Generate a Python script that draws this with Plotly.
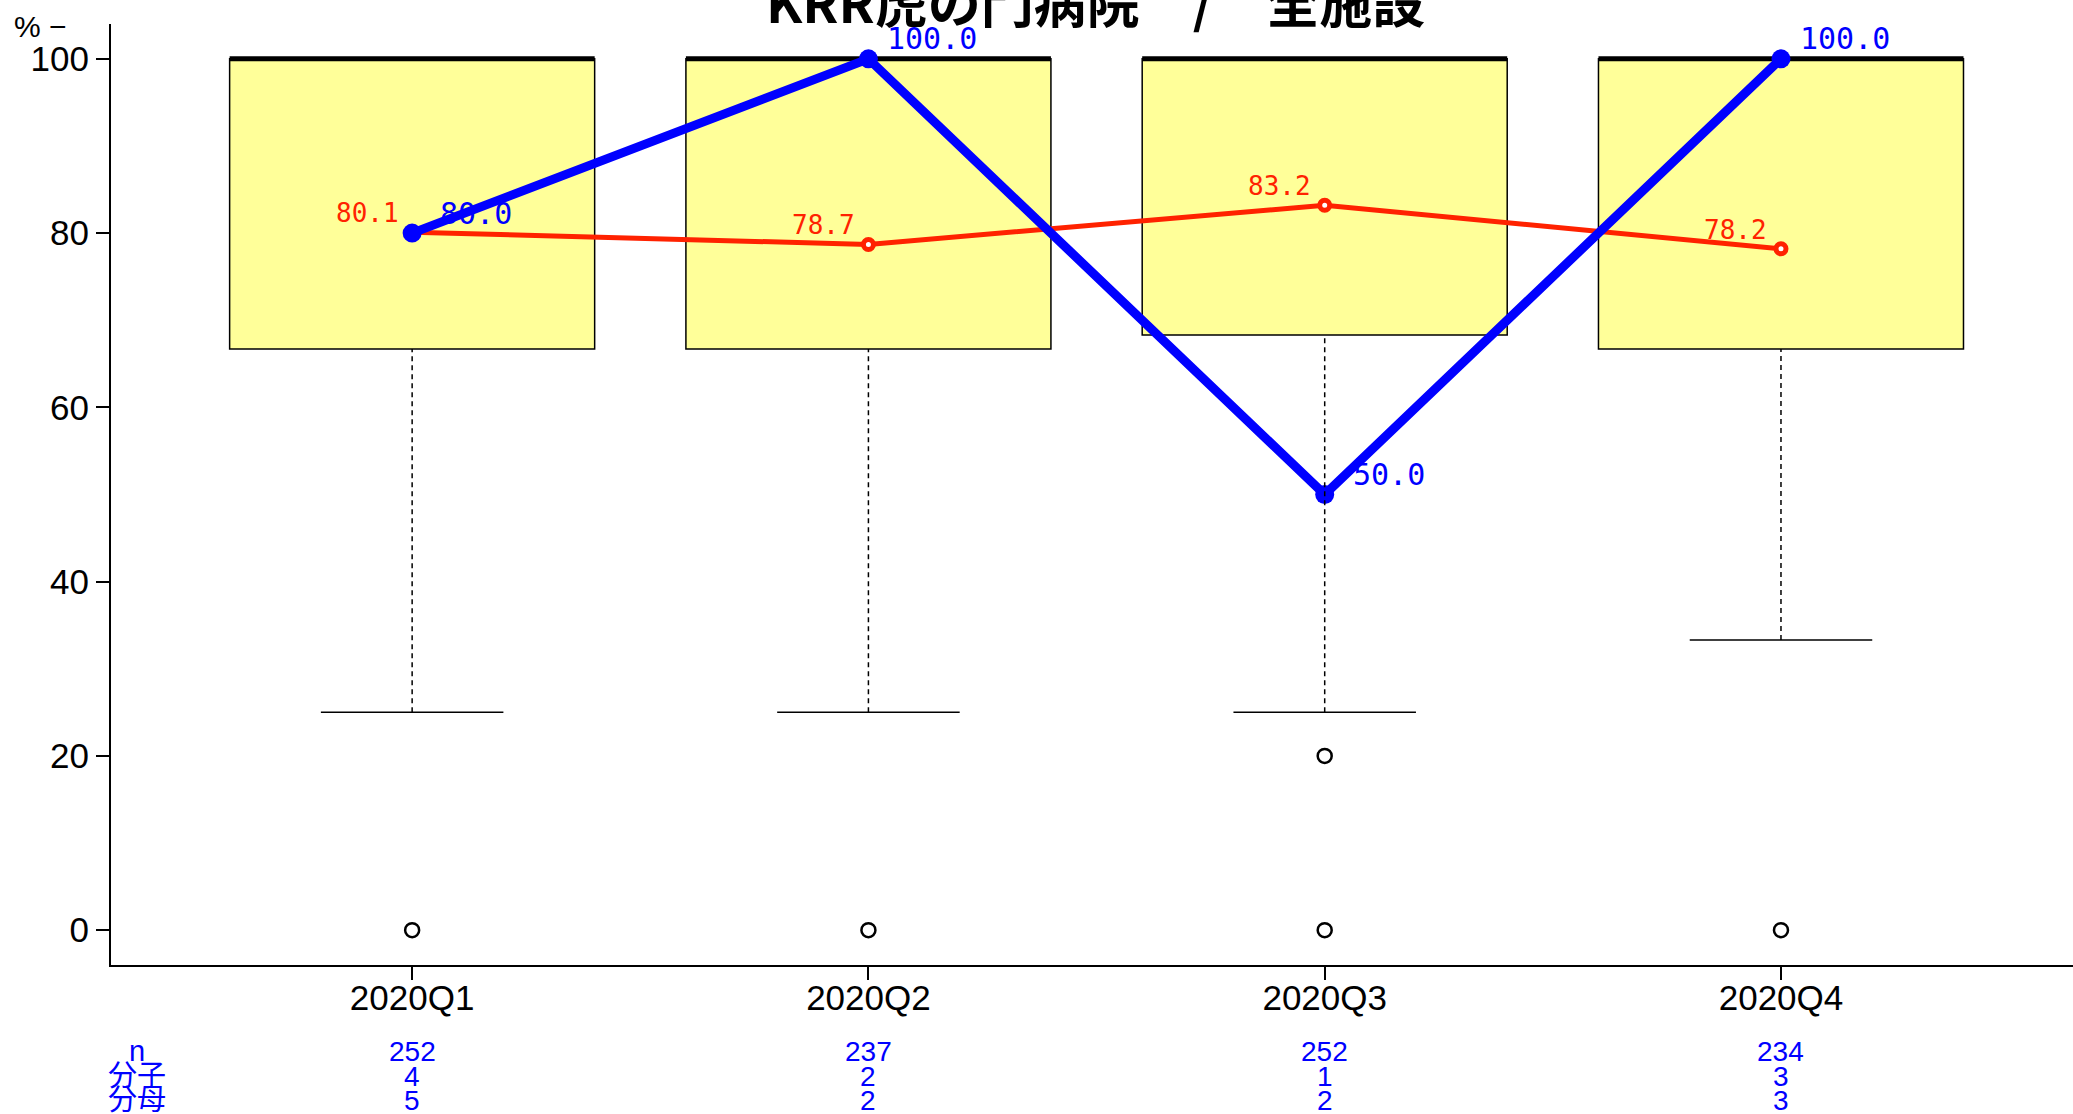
import plotly.graph_objects as go

# ---------------- data ----------------
categories = ["2020Q1", "2020Q2", "2020Q3", "2020Q4"]
x_pos = [1, 2, 3, 4]

# box statistics (all facilities)
whisker_low = [25.0, 25.0, 25.0, 33.3]
box_q1 = [66.7, 66.7, 68.3, 66.7]
box_median = [100.0, 100.0, 100.0, 100.0]
box_q3 = [100.0, 100.0, 100.0, 100.0]
whisker_high = [100.0, 100.0, 100.0, 100.0]

outlier_x = [1, 2, 3, 3, 4]
outlier_y = [0.0, 0.0, 20.0, 0.0, 0.0]

# overall mean (red) and this hospital (blue)
mean_values = [80.1, 78.7, 83.2, 78.2]
hospital_values = [80.0, 100.0, 50.0, 100.0]

n_values = [252, 237, 252, 234]
numerators = [4, 2, 1, 3]
denominators = [5, 2, 2, 3]

title_text = "KRR虎の門病院\u3000/\u3000全施設"
y_ticks = [0, 20, 40, 60, 80, 100]

# ---------------- figure ----------------
W, H = 2073, 1114
ML, MR, MT, MB = 111, 0, 24, 149
x_range = [0.34, 4.64]
y_range = [-4, 104]

SANS = "Liberation Sans, Arial, sans-serif"
MONO = "DejaVu Sans Mono, monospace"
CJK = "Liberation Sans, Noto Sans CJK JP, sans-serif"

fig = go.Figure()
shapes = []
BOX_HALF = 0.4
CAP_HALF = 0.2
for xi, lo, q1, med, q3, hi in zip(x_pos, whisker_low, box_q1, box_median, box_q3, whisker_high):
    # lower whisker (dashed)
    shapes.append(dict(type="line", xref="x", yref="y", x0=xi, x1=xi, y0=lo, y1=q1,
                       line=dict(color="black", width=1.5, dash="5px,4px"), layer="above"))
    shapes.append(dict(type="line", xref="x", yref="y", x0=xi - CAP_HALF, x1=xi + CAP_HALF, y0=lo, y1=lo,
                       line=dict(color="black", width=1.5), layer="above"))
    # upper whisker
    if hi > q3:
        shapes.append(dict(type="line", xref="x", yref="y", x0=xi, x1=xi, y0=q3, y1=hi,
                           line=dict(color="black", width=1.5, dash="5px,4px"), layer="above"))
        shapes.append(dict(type="line", xref="x", yref="y", x0=xi - CAP_HALF, x1=xi + CAP_HALF, y0=hi, y1=hi,
                           line=dict(color="black", width=1.5), layer="above"))
    # box
    shapes.append(dict(type="rect", xref="x", yref="y", x0=xi - BOX_HALF, x1=xi + BOX_HALF, y0=q1, y1=q3,
                       fillcolor="#FFFF99", line=dict(color="black", width=1.5), layer="below"))
    # median
    shapes.append(dict(type="line", xref="x", yref="y", x0=xi - BOX_HALF, x1=xi + BOX_HALF, y0=med, y1=med,
                       line=dict(color="black", width=5), layer="below"))

# outliers
fig.add_trace(go.Scatter(x=outlier_x, y=outlier_y, mode="markers",
                         marker=dict(symbol="circle-open", size=14, color="black", line=dict(width=2.5)),
                         showlegend=False, hoverinfo="skip"))

# mean line (red)
fig.add_trace(go.Scatter(x=x_pos, y=mean_values, mode="lines+markers",
                         line=dict(color="#FF2200", width=5),
                         marker=dict(symbol="circle", size=10, color="white", line=dict(color="#FF2200", width=5)),
                         showlegend=False, hoverinfo="skip"))

# hospital line (blue)
fig.add_trace(go.Scatter(x=x_pos, y=hospital_values, mode="lines+markers",
                         line=dict(color="#0000FF", width=9),
                         marker=dict(symbol="circle", size=19, color="#0000FF"),
                         showlegend=False, hoverinfo="skip"))

annotations = []
for xi, v in zip(x_pos, mean_values):
    annotations.append(dict(x=xi, y=v, xref="x", yref="y", text=f"{v:.1f}", showarrow=False,
                            xanchor="center", yanchor="middle", xshift=-45, yshift=19,
                            font=dict(family=MONO, size=26, color="#FF2200")))
for xi, v in zip(x_pos, hospital_values):
    annotations.append(dict(x=xi, y=v, xref="x", yref="y", text=f"{v:.1f}", showarrow=False,
                            xanchor="center", yanchor="middle", xshift=64, yshift=20,
                            font=dict(family=MONO, size=30, color="#0000FF")))

# bottom count rows
plot_h = H - MT - MB
def py(px):
    """paper y for a pixel row measured from top"""
    return 1 - (px - MT) / plot_h

row_px = [1051, 1076, 1100]
row_labels = ["n", "分子", "分母"]
row_values = [n_values, numerators, denominators]
plot_w = W - ML - MR
label_x_paper = (137 - ML) / plot_w
for rp, lab, vals in zip(row_px, row_labels, row_values):
    annotations.append(dict(x=label_x_paper, y=py(rp), xref="paper", yref="paper", text=lab,
                            showarrow=False, xanchor="center", yanchor="middle",
                            font=dict(family=CJK, size=29, color="#0000FF")))
    for xi, v in zip(x_pos, vals):
        annotations.append(dict(x=xi, y=py(rp), xref="x", yref="paper", text=str(v),
                                showarrow=False, xanchor="center", yanchor="middle",
                                font=dict(family=SANS, size=28, color="#0000FF")))

# title (clipped at the top like the reference)
title_x_paper = (1095 - ML) / plot_w
annotations.append(dict(x=title_x_paper, y=py(0), xref="paper", yref="paper", text="<b>" + title_text + "</b>",
                        showarrow=False, xanchor="center", yanchor="middle",
                        font=dict(family="Noto Sans CJK JP, sans-serif", size=53, color="black")))
# y label
annotations.append(dict(x=-(ML - 12) / plot_w, y=py(27), xref="paper", yref="paper", text="% \u2212",
                        showarrow=False, xanchor="left", yanchor="middle",
                        font=dict(family=SANS, size=30, color="black")))

fig.update_layout(
    width=W, height=H,
    margin=dict(l=ML, r=MR, t=MT, b=MB, pad=0),
    paper_bgcolor="white", plot_bgcolor="white",
    shapes=shapes, annotations=annotations,
    xaxis=dict(range=x_range, tickvals=x_pos, ticktext=categories, showgrid=False, zeroline=False,
               showline=True, linecolor="black", linewidth=2, ticks="outside", ticklen=13,
               tickwidth=1.5, tickcolor="black", tickfont=dict(family=SANS, size=35, color="black"),
               ticklabelstandoff=-12, fixedrange=True),
    yaxis=dict(range=y_range, tickvals=y_ticks, showgrid=False, zeroline=False,
               showline=True, linecolor="black", linewidth=2, ticks="outside", ticklen=13,
               tickwidth=1.5, tickcolor="black", tickfont=dict(family=SANS, size=35, color="black"),
               fixedrange=True),
    showlegend=False,
)

fig.write_html("out.html", config={"displayModeBar": False},
               post_script="document.body.style.margin='0';")
